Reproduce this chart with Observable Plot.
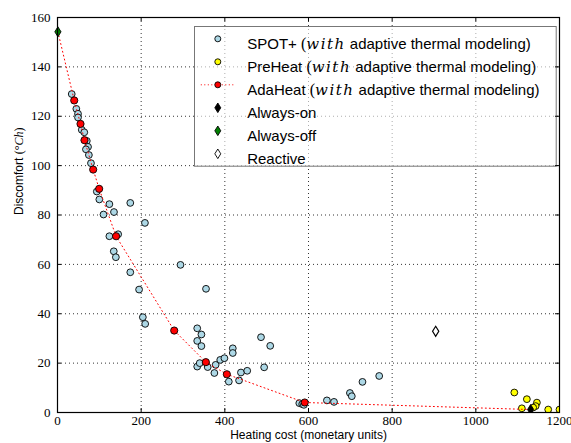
<!DOCTYPE html>
<html><head><meta charset="utf-8">
<script src="https://cdn.jsdelivr.net/npm/d3@7"></script>
<script src="https://cdn.jsdelivr.net/npm/@observablehq/plot@0.6"></script>
<style>body{margin:0;background:#fff}#chart svg{display:block}</style>
</head><body><div id="chart"></div>
<script>
// ---- data ----
const spotCost = [34,45,49,49,58,64,70,73,68,75,80,94,100,110,124,135,174,209,124,145,134.5,139.5,294,174,195,355,204,209.6,334,344,334,344,334,340,359,375,378,389,399,419,419,409.5,438.5,434,453.5,486.5,508.5,494,578,585,589,644,661,699,703.5,729,769];
const spotDiscomfort = [129,123,121,119.5,114.5,113.5,110,107.6,106.6,104.3,101,89.5,86.3,80.2,84.4,81.2,84.9,76.8,71.4,72.2,65.3,62.9,59.8,56.8,49.8,50.1,38.6,35.9,34.1,31.6,29,26.9,18.6,20,18.4,16,19.3,21.3,22,26,24.1,12.5,16.2,13,16.9,30.5,27,18.3,3.8,3.4,3.1,4.9,4.3,7.9,6.6,12.4,14.8];
const preCost = [1092,1122,1146,1143,1110,1137,1173,1200];
const preDiscomfort = [8.1,5.4,4.0,2.6,1.7,2.0,1.2,1.2];
const adaCost = [40,55,64.5,85.3,99.6,140,279,354.6,404.8,591];
const adaDiscomfort = [126.4,116.9,110.3,98.4,90.6,71.4,33.2,20.4,15.5,4.05];
const alwaysOnCost = [1131], alwaysOnDiscomfort = [1.2];
const alwaysOffCost = [1], alwaysOffDiscomfort = [154.2];
const reactiveCost = [904], reactiveDiscomfort = [32.9];
const xTicks = [0,200,400,600,800,1000,1200];
const yTicks = [0,20,40,60,80,100,120,140,160];
const legendLabels = [
  "SPOT+ (with adaptive thermal modeling)",
  "PreHeat (with adaptive thermal modeling)",
  "AdaHeat (with adaptive thermal modeling)",
  "Always-on","Always-off","Reactive"];
const xLabel = "Heating cost (monetary units)";
const yLabel = "Discomfort (°Ch)";

// ---- build ----
const toRows = (xs, ys) => xs.map((c, i) => ({cost: c, discomfort: ys[i]}));
const spot = toRows(spotCost, spotDiscomfort);
const pre = toRows(preCost, preDiscomfort);
const ada = toRows(adaCost, adaDiscomfort);
const alwaysOn = toRows(alwaysOnCost, alwaysOnDiscomfort);
const alwaysOff = toRows(alwaysOffCost, alwaysOffDiscomfort);
const reactive = toRows(reactiveCost, reactiveDiscomfort);
const adaLine = [...alwaysOff, ...ada, ...alwaysOn];

const W = 571, H = 443, mL = 57, mR = 12, mT = 17, mB = 31;
const pw = W - mL - mR, ph = H - mT - mB;

const thinDiamond = {draw(ctx, size) {
  const r = Math.sqrt(size / Math.PI), w = r * 0.62;
  ctx.moveTo(0, -r); ctx.lineTo(w, 0); ctx.lineTo(0, r); ctx.lineTo(-w, 0); ctx.closePath();
}};
const hLine = {draw(ctx) { ctx.moveTo(-17, 0); ctx.lineTo(17, 0); }};

const sans = "'Liberation Sans', Arial, sans-serif";
const serif = "'Liberation Serif', 'Times New Roman', serif";

const legendStyles = [
  {symbol: "circle", fill: "#add8e6", r: 3},
  {symbol: "circle", fill: "yellow", r: 3},
  {symbol: "circle", fill: "red", r: 3, line: true},
  {symbol: thinDiamond, fill: "black", r: 4.8},
  {symbol: thinDiamond, fill: "green", r: 4.8},
  {symbol: thinDiamond, fill: "white", r: 4.8}
];
const legX = 160.3, legY0 = 21.3, legStep = 23;
const legendMarks = legendLabels.flatMap((label, i) => {
  const s = legendStyles[i];
  const ms = [];
  if (s.line) ms.push(Plot.dot([label], {frameAnchor: "top-left", dx: legX, dy: legY0 + legStep * i, symbol: hLine, r: 3, stroke: "red", strokeWidth: 1, strokeDasharray: "1,2.5", fill: "none"}));
  ms.push(Plot.dot([label], {frameAnchor: "top-left", dx: legX, dy: legY0 + legStep * i, symbol: s.symbol, r: s.r, fill: s.fill, stroke: "black", strokeWidth: 0.9}));
  ms.push(Plot.text([label], {frameAnchor: "top-left", dx: 189.7, dy: legY0 + legStep * i, text: d => d, textAnchor: "start", fontSize: 15, fontFamily: sans, fill: "black"}));
  return ms;
});

const chart = Plot.plot({
  width: W, height: H,
  marginLeft: mL, marginRight: mR, marginTop: mT, marginBottom: mB,
  style: {background: "white", overflow: "visible"},
  x: {domain: [0, 1200], axis: null},
  y: {domain: [0, 160], axis: null},
  marks: [
    // grid
    Plot.ruleX(xTicks, {x: d => d, stroke: "black", strokeWidth: 0.8, strokeDasharray: "1,3"}),
    Plot.ruleY(yTicks, {y: d => d, stroke: "black", strokeWidth: 0.8, strokeDasharray: "1,3"}),
    // legend box
    Plot.frame({insetLeft: 137, insetTop: 9, insetRight: 3.3, insetBottom: 246.3, fill: "white", fillOpacity: 0.6, stroke: "#777", strokeWidth: 1}),
    ...legendMarks,
    // data
    Plot.dot(spot, {x: "cost", y: "discomfort", r: 3.4, fill: "#add8e6", stroke: "black", strokeWidth: 0.9, clip: true}),
    Plot.dot(pre, {x: "cost", y: "discomfort", r: 3.4, fill: "yellow", stroke: "black", strokeWidth: 0.9, clip: true}),
    Plot.line(adaLine, {x: "cost", y: "discomfort", stroke: "red", strokeWidth: 1, strokeDasharray: "1,3", clip: true}),
    Plot.dot(ada, {x: "cost", y: "discomfort", r: 3.6, fill: "red", stroke: "black", strokeWidth: 0.9, clip: true}),
    Plot.dot(alwaysOn, {x: "cost", y: "discomfort", r: 5, symbol: thinDiamond, fill: "black", stroke: "black", strokeWidth: 0.9, clip: true}),
    Plot.dot(alwaysOff, {x: "cost", y: "discomfort", r: 5, symbol: thinDiamond, fill: "green", stroke: "black", strokeWidth: 0.9}),
    Plot.dot(reactive, {x: "cost", y: "discomfort", r: 5, symbol: thinDiamond, fill: "white", stroke: "black", strokeWidth: 1.2}),
    // ticks (inward, all four sides)
    Plot.ruleX(xTicks, {x: d => d, insetTop: ph - 4, stroke: "black"}),
    Plot.ruleX(xTicks, {x: d => d, insetBottom: ph - 4, stroke: "black"}),
    Plot.ruleY(yTicks, {y: d => d, insetRight: pw - 4, stroke: "black"}),
    Plot.ruleY(yTicks, {y: d => d, insetLeft: pw - 4, stroke: "black"}),
    // tick labels
    Plot.axisX({ticks: xTicks, tickSize: 0, tickPadding: 3.5, fontSize: 13, fontFamily: serif, label: null, tickFormat: d => String(d)}),
    Plot.axisY({ticks: yTicks, tickSize: 0, tickPadding: 7, fontSize: 13, fontFamily: serif, label: null, tickFormat: d => String(d)}),
    // axis titles
    Plot.text([xLabel], {frameAnchor: "bottom", dy: 26.5, text: d => d, fontSize: 12, fontFamily: sans, fill: "black"}),
    Plot.text([yLabel], {frameAnchor: "left", dx: -38, rotate: -90, text: d => d, fontSize: 12, fontFamily: sans, fill: "black"}),
    Plot.frame({stroke: "black", strokeWidth: 1.2})
  ]
});

// mixed-font text (math italic parts)
d3.select(chart).selectAll("text").each(function () {
  const t = this.textContent;
  const el = d3.select(this);
  if (t.includes(" (with ")) {
    const [pre0] = t.split(" (with ");
    el.text(null);
    el.append("tspan").text(pre0 + " ");
    el.append("tspan").attr("font-family", serif).attr("font-size", 16).text("(");
    el.append("tspan").attr("font-family", "'DejaVu Serif', serif").attr("font-style", "italic").attr("font-size", 15).attr("letter-spacing", 1.5).text("with");
    el.append("tspan").text(" adaptive thermal modeling)");
  } else if (t === yLabel) {
    el.text(null);
    el.append("tspan").text("Discomfort ");
    el.append("tspan").attr("font-family", serif).text("(°");
    el.append("tspan").attr("font-family", serif).attr("font-style", "italic").text("Ch");
    el.append("tspan").attr("font-family", serif).text(")");
  }
});

document.getElementById("chart").appendChild(chart);
</script>
</body></html>
